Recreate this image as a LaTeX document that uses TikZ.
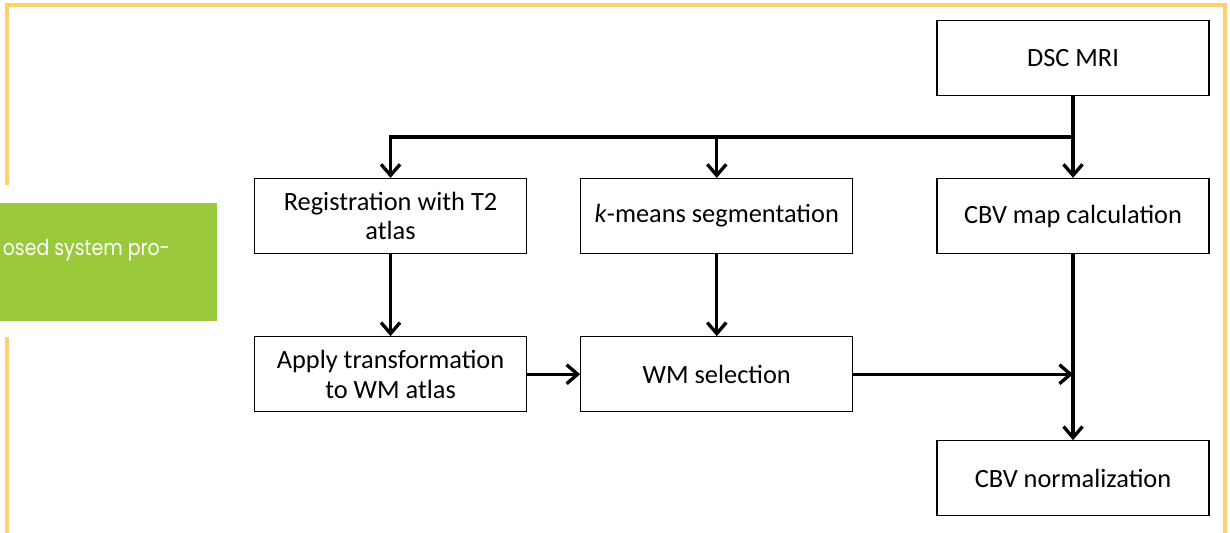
\documentclass[tikz,border=0pt]{standalone}
\usepackage{fontspec}
\setmainfont{Carlito}
\newfontfamily\titlefont{Poppins}
\usepackage{tikz}
\usetikzlibrary{arrows.meta,positioning,calc}
\definecolor{Frame}{RGB}{254,208,110}
\definecolor{Leaf}{RGB}{154,202,60}
\tikzset{
  stepbox/.style={draw=black,line width=0.7pt,fill=white,minimum width=5.44cm,minimum height=1.5cm,align=center,font=\fontsize{15}{17}\selectfont,inner sep=2pt},
  flow/.style={-{Straight Barb[length=2.2mm,width=3.8mm]},line width=1.9pt},
  framepath/.style={draw=Frame,line width=2pt}
}

\begin{document}
\begin{tikzpicture}[node distance=1.64cm]
\useasboundingbox (0,0) rectangle (24.6,10.66);
% frame and side tab
\draw[framepath] (0.14,6.96) -- (0.14,10.56) -- (24.5,10.56) -- (24.5,0);
\draw[framepath] (0.14,3.92) -- (0.14,0);
\fill[Leaf] (0,4.24) rectangle (4.34,6.6);
\node[anchor=base west,inner sep=0pt,text=white,font=\titlefont\fontsize{12.5}{14}\selectfont] (tab) at (0.05,5.54) {\scalebox{0.86}[1]{osed system pro-}};
% boxes
\node[stepbox] (cbv) at (21.46,6.34) {CBV map calculation};
\node[stepbox,above=of cbv] (dsc) {DSC MRI};
\node[stepbox,below=3.72cm of cbv] (norm) {CBV normalization};
\node[stepbox,left=1.66cm of cbv] (kmeans) {\textit{k}-means segmentation};
\node[stepbox,left=1.06cm of kmeans] (reg) {Registration with T2\\atlas};
\node[stepbox,below=of kmeans] (wmsel) {WM selection};
\node[stepbox,below=of reg] (apply) {Apply transformation\\to WM atlas};
% connectors
\coordinate (split) at ($(dsc.south)!0.5!(cbv.north)$);
\draw[flow] (dsc) -- (cbv);
\draw[flow] (split) -| (reg);
\draw[flow] (kmeans |- split) -- (kmeans);
\draw[flow] (reg) -- (apply);
\draw[flow] (kmeans) -- (wmsel);
\draw[flow] (apply) -- (wmsel);
\draw[flow] (wmsel) -- (wmsel -| cbv);
\draw[flow] (cbv) -- (norm);
\end{tikzpicture}
\end{document}
